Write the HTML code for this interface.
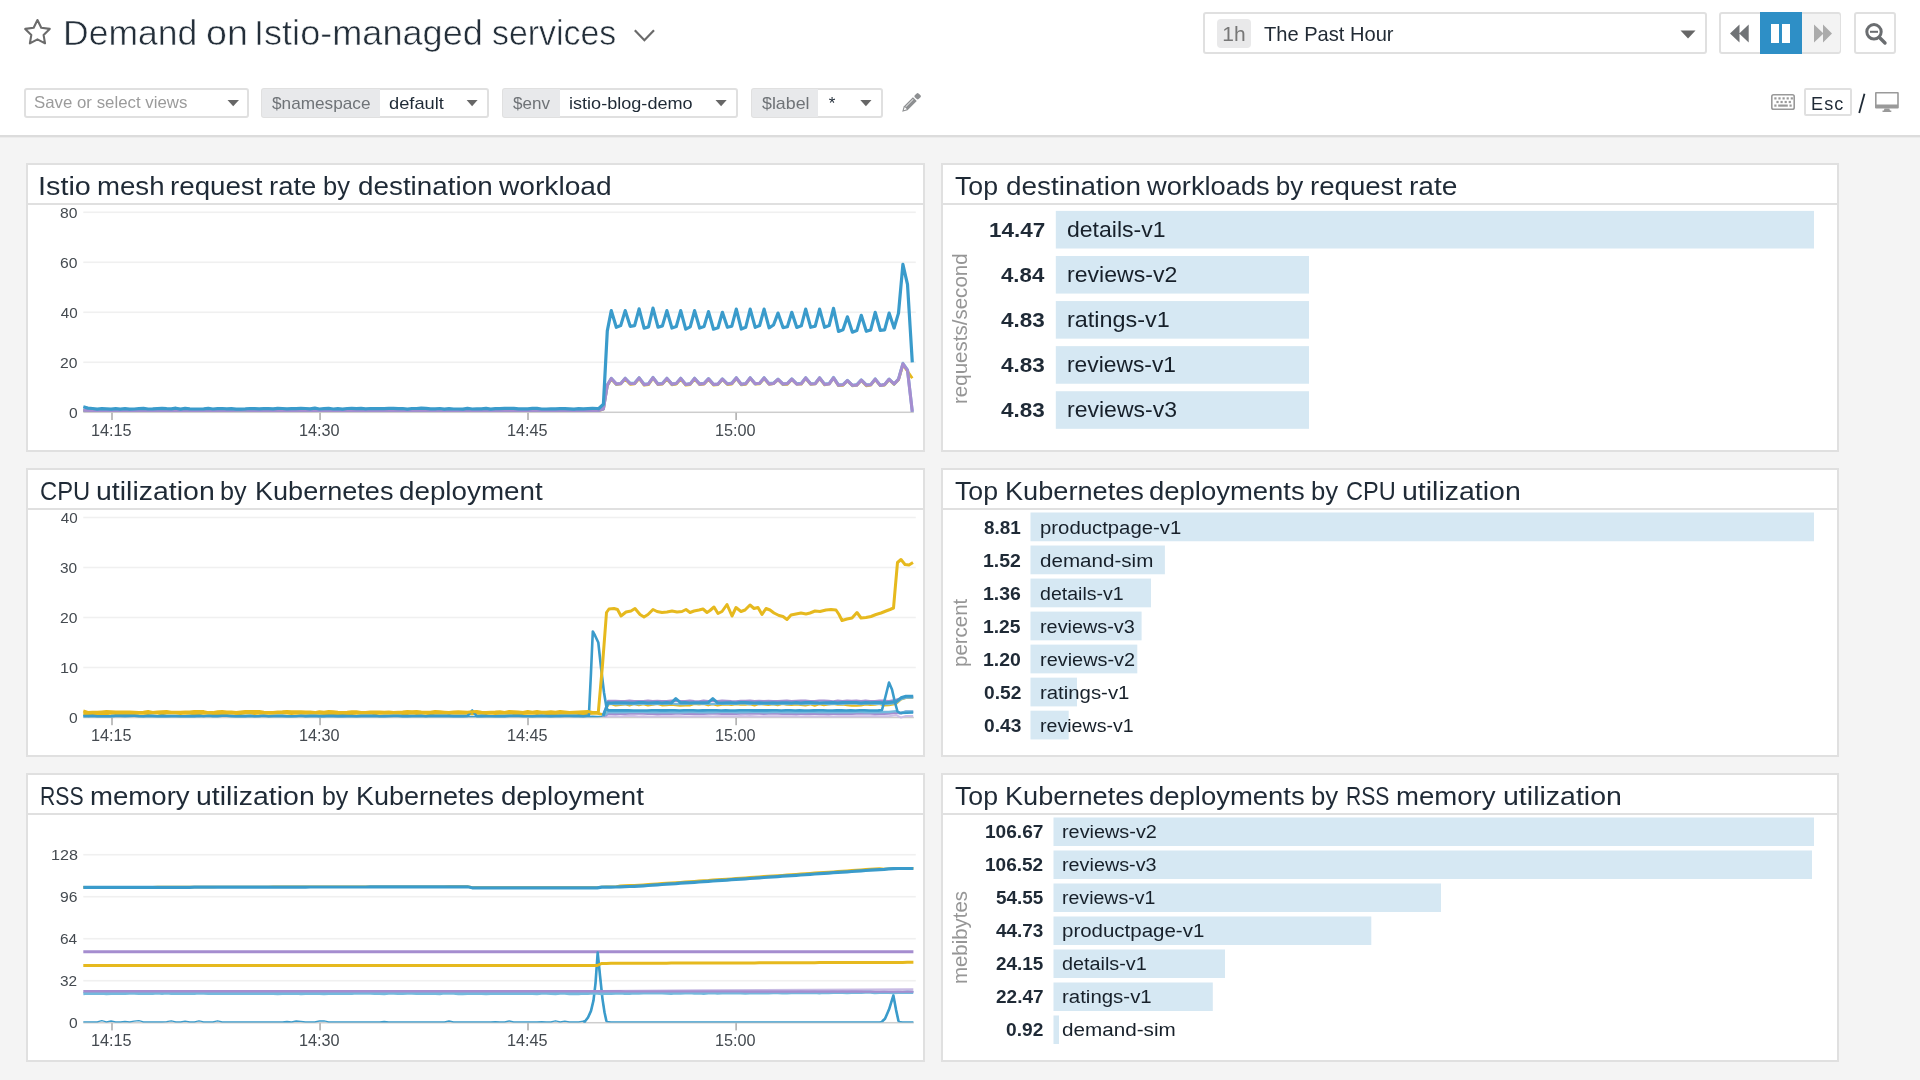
<!DOCTYPE html>
<html><head><meta charset="utf-8"><title>Demand on Istio-managed services</title><style>
html,body{margin:0;padding:0;}
body{width:1920px;height:1080px;overflow:hidden;background:#f4f4f4;font-family:"Liberation Sans",sans-serif;position:relative;}
.t{position:absolute;white-space:pre;line-height:1;transform-origin:0 0;font-family:"Liberation Sans",sans-serif;}
.abs{position:absolute;}
.hdr{position:absolute;left:0;top:0;width:1920px;height:135px;background:#fff;border-bottom:2px solid #dcdcdc;box-shadow:0 1px 0 #ebebeb;}
.box{position:absolute;box-sizing:border-box;border:2px solid #e0e0e0;border-radius:3px;background:#fff;}
.panel{position:absolute;box-sizing:border-box;border:2px solid #e0e0e0;background:#fff;}
.psep{position:absolute;left:0;right:0;height:2px;background:#e0e0e0;}
.bar{position:absolute;background:#d6e8f3;}
.rot{position:absolute;white-space:pre;line-height:1;transform-origin:0 0;transform:rotate(-90deg);color:#8a8a8a;}
#root{position:absolute;left:0;top:0;width:1920px;height:1080px;will-change:transform;background:#f4f4f4;}
svg{position:absolute;left:0;top:0;overflow:visible;}
</style></head><body><div id="root">
<div class="hdr"></div>
<svg width="1920" height="140" viewBox="0 0 1920 140"><path d="M37.45 20.00 L41.24 27.68 L49.72 28.91 L43.58 34.89 L45.03 43.34 L37.45 39.35 L29.87 43.34 L31.32 34.89 L25.18 28.91 L33.66 27.68 Z" fill="none" stroke="#6b6b6b" stroke-width="2.1" stroke-linejoin="round"/><path d="M634.8 30.3 L644.4 40.2 L654 30.3" fill="none" stroke="#6a6a6a" stroke-width="2.2"/></svg>
<span class="t" style="left:63.01px;top:15.00px;font-size:35px;color:#232e39;transform:scaleX(1.0145);-webkit-text-stroke:0.55px #fff;">Demand</span>
<span class="t" style="left:205.69px;top:15.00px;font-size:35px;color:#232e39;transform:scaleX(1.0752);-webkit-text-stroke:0.55px #fff;">on</span>
<span class="t" style="left:254.15px;top:15.00px;font-size:35px;color:#232e39;transform:scaleX(1.0317);-webkit-text-stroke:0.55px #fff;">Istio-managed</span>
<span class="t" style="left:492.33px;top:15.00px;font-size:35px;color:#232e39;transform:scaleX(0.9675);-webkit-text-stroke:0.55px #fff;">services</span>
<div class="box" style="left:1203px;top:12px;width:504px;height:42px;"></div>
<div class="abs" style="left:1217px;top:19px;width:34px;height:29px;background:#e9e9ea;border-radius:4px;"></div>
<span class="t" style="left:1222.32px;top:23.00px;font-size:21px;color:#777;">1h</span>
<span class="t" style="left:1263.82px;top:23.00px;font-size:21px;color:#222b35;transform:scaleX(0.9569);">The Past Hour</span>
<svg width="1920" height="140"><path d="M1680.5 30.5 L1695.5 30.5 L1688 38.5 Z" fill="#666"/></svg>
<div class="box" style="left:1719px;top:12px;width:122px;height:42px;"></div>
<div class="abs" style="left:1802px;top:14px;width:38px;height:38px;background:#f3f3f3;border-radius:0 2px 2px 0;"></div>
<div class="abs" style="left:1760px;top:12px;width:42px;height:42px;background:#2e8fc6;"></div>
<svg width="1920" height="140"><path d="M1739.5 24.5 L1739.5 42.5 L1730 33.5 Z M1748.7 24.5 L1748.7 42.5 L1739.2 33.5 Z" fill="#707376"/><rect x="1771" y="24" width="8" height="19" fill="#fff"/><rect x="1782" y="24" width="8" height="19" fill="#fff"/><path d="M1814 24.5 L1814 42.5 L1823.5 33.5 Z M1823 24.5 L1823 42.5 L1832 33.5 Z" fill="#ababab"/></svg>
<div class="box" style="left:1854px;top:12px;width:42px;height:42px;"></div>
<svg width="1920" height="140"><circle cx="1874" cy="31.8" r="7.2" fill="none" stroke="#6a6d70" stroke-width="3"/><path d="M1879.5 37.5 L1885 43" stroke="#6a6d70" stroke-width="3.4" stroke-linecap="round"/><path d="M1870 31.8 L1878 31.8" stroke="#6a6d70" stroke-width="2"/></svg>
<div class="box" style="left:24px;top:88px;width:225px;height:30px;"></div>
<span class="t" style="left:34.24px;top:94.00px;font-size:16.5px;color:#9b9b9b;transform:scaleX(1.0195);">Save or select views</span>
<svg width="1920" height="140"><path d="M227.5 100 L239 100 L233.2 106.3 Z" fill="#666"/></svg>
<div class="box" style="left:261px;top:88px;width:228px;height:30px;"></div>
<div class="abs" style="left:262px;top:89px;width:118px;height:28px;background:#e8e9eb;border-radius:2px 0 0 2px;"></div>
<span class="t" style="left:271.75px;top:95.00px;font-size:17px;color:#6f7377;transform:scaleX(1.0119);">$namespace</span>
<span class="t" style="left:388.89px;top:95.00px;font-size:17px;color:#1f2a36;transform:scaleX(1.0746);">default</span>
<svg width="1920" height="140"><path d="M466.6 100 L477.6 100 L472.1 106.3 Z" fill="#666"/></svg>
<div class="box" style="left:502px;top:88px;width:236px;height:30px;"></div>
<div class="abs" style="left:503px;top:89px;width:57px;height:28px;background:#e8e9eb;border-radius:2px 0 0 2px;"></div>
<span class="t" style="left:513.15px;top:95.00px;font-size:17px;color:#6f7377;transform:scaleX(1.0027);">$env</span>
<span class="t" style="left:569.14px;top:95.00px;font-size:17px;color:#1f2a36;transform:scaleX(1.0638);">istio-blog-demo</span>
<svg width="1920" height="140"><path d="M715.5 100 L726.7 100 L721.1 106.3 Z" fill="#666"/></svg>
<div class="box" style="left:751px;top:88px;width:132px;height:30px;"></div>
<div class="abs" style="left:752px;top:89px;width:66px;height:28px;background:#e8e9eb;border-radius:2px 0 0 2px;"></div>
<span class="t" style="left:761.64px;top:95.00px;font-size:17px;color:#6f7377;transform:scaleX(1.0477);">$label</span>
<span class="t" style="left:828.75px;top:95.00px;font-size:17px;color:#1f2a36;">*</span>
<svg width="1920" height="140"><path d="M860.3 100 L871.5 100 L865.9 106.3 Z" fill="#666"/></svg>
<svg width="1920" height="140"><g transform="translate(902.2,111.7) rotate(-45)"><path d="M0 0 L4.8 -2.7 L17.9 -2.7 L17.9 2.7 L4.8 2.7 Z" fill="#8d8f91"/><path d="M2.1 0 L5.1 -1.5 L5.1 1.5 Z" fill="#fff"/><rect x="6.0" y="-1.4" width="10.6" height="0.9" fill="#fff" opacity="0.8"/><rect x="19.2" y="-2.7" width="5.3" height="5.4" rx="1.3" fill="#8d8f91"/></g></svg>
<svg width="1920" height="140"><g fill="none" stroke="#999" stroke-width="1.6"><rect x="1771.8" y="94.8" width="22.4" height="14.4" rx="1.8"/></g><g fill="#999"><rect x="1774.3" y="97.3" width="2.2" height="2.2"/><rect x="1778.4" y="97.3" width="2.2" height="2.2"/><rect x="1782.5" y="97.3" width="2.2" height="2.2"/><rect x="1786.6" y="97.3" width="2.2" height="2.2"/><rect x="1790.7" y="97.3" width="2.2" height="2.2"/><rect x="1776.4" y="100.9" width="2.2" height="2.2"/><rect x="1780.5" y="100.9" width="2.2" height="2.2"/><rect x="1784.6" y="100.9" width="2.2" height="2.2"/><rect x="1788.7" y="100.9" width="2.2" height="2.2"/><rect x="1774.3" y="104.5" width="2.2" height="2.2"/><rect x="1778.2" y="104.5" width="9.6" height="2.2"/><rect x="1789.5" y="104.5" width="2.2" height="2.2"/></g></svg>
<div class="box" style="left:1804px;top:88px;width:48px;height:28px;border-radius:2px;"></div>
<span class="t" style="left:1811.15px;top:96.00px;font-size:17.5px;color:#1f2a36;letter-spacing:1.067px;transform:scaleX(1.0311);">Esc</span>
<svg width="1920" height="140"><path d="M1864.5 93.8 L1859.2 113" stroke="#1f2a36" stroke-width="1.8"/><path d="M1876 92 H1897.8 Q1898.8 92 1898.8 93 V107.6 Q1898.8 108.6 1897.8 108.6 H1876 Q1875 108.6 1875 107.6 V93 Q1875 92 1876 92 Z M1876.6 93.6 V104.6 H1897.2 V93.6 Z" fill="#9a9a9a" fill-rule="evenodd"/><path d="M1884.5 108.6 H1889.3 L1890 110.6 H1891.3 V112 H1882.5 V110.6 H1883.8 Z" fill="#9a9a9a"/></svg>
<div class="panel" style="left:26px;top:163px;width:899px;height:289px;"><div class="psep" style="top:38px;"></div></div>
<div class="panel" style="left:941px;top:163px;width:898px;height:289px;"><div class="psep" style="top:38px;"></div></div>
<span class="t" style="left:37.51px;top:173.00px;font-size:26px;color:#1f2a36;transform:scaleX(1.1079);">Istio</span>
<span class="t" style="left:96.84px;top:173.00px;font-size:26px;color:#1f2a36;transform:scaleX(1.0622);">mesh</span>
<span class="t" style="left:169.84px;top:173.00px;font-size:26px;color:#1f2a36;transform:scaleX(1.0655);">request</span>
<span class="t" style="left:269.15px;top:173.00px;font-size:26px;color:#1f2a36;transform:scaleX(1.0548);">rate</span>
<span class="t" style="left:323.28px;top:173.00px;font-size:26px;color:#1f2a36;transform:scaleX(0.9804);">by</span>
<span class="t" style="left:358.23px;top:173.00px;font-size:26px;color:#1f2a36;transform:scaleX(1.0707);">destination</span>
<span class="t" style="left:499.30px;top:173.00px;font-size:26px;color:#1f2a36;transform:scaleX(1.0826);">workload</span>
<span class="t" style="left:955.19px;top:173.00px;font-size:26px;color:#1f2a36;transform:scaleX(1.0261);">Top</span>
<span class="t" style="left:1005.63px;top:173.00px;font-size:26px;color:#1f2a36;transform:scaleX(1.0732);">destination</span>
<span class="t" style="left:1147.30px;top:173.00px;font-size:26px;color:#1f2a36;transform:scaleX(1.0486);">workloads</span>
<span class="t" style="left:1275.75px;top:173.00px;font-size:26px;color:#1f2a36;">by</span>
<span class="t" style="left:1310.14px;top:173.00px;font-size:26px;color:#1f2a36;transform:scaleX(1.0619);">request</span>
<span class="t" style="left:1409.41px;top:173.00px;font-size:26px;color:#1f2a36;transform:scaleX(1.0810);">rate</span>
<div class="panel" style="left:26px;top:468px;width:899px;height:289px;"><div class="psep" style="top:38px;"></div></div>
<div class="panel" style="left:941px;top:468px;width:898px;height:289px;"><div class="psep" style="top:38px;"></div></div>
<span class="t" style="left:39.86px;top:478.00px;font-size:26px;color:#1f2a36;transform:scaleX(0.9140);">CPU</span>
<span class="t" style="left:95.78px;top:478.00px;font-size:26px;color:#1f2a36;transform:scaleX(1.0952);">utilization</span>
<span class="t" style="left:220.30px;top:478.00px;font-size:26px;color:#1f2a36;transform:scaleX(0.9686);">by</span>
<span class="t" style="left:254.62px;top:478.00px;font-size:26px;color:#1f2a36;transform:scaleX(1.0408);">Kubernetes</span>
<span class="t" style="left:399.23px;top:478.00px;font-size:26px;color:#1f2a36;transform:scaleX(1.0687);">deployment</span>
<span class="t" style="left:955.19px;top:478.00px;font-size:26px;color:#1f2a36;transform:scaleX(1.0261);">Top</span>
<span class="t" style="left:1004.61px;top:478.00px;font-size:26px;color:#1f2a36;transform:scaleX(1.0446);">Kubernetes</span>
<span class="t" style="left:1148.94px;top:478.00px;font-size:26px;color:#1f2a36;transform:scaleX(1.0564);">deployments</span>
<span class="t" style="left:1311.27px;top:478.00px;font-size:26px;color:#1f2a36;transform:scaleX(0.9882);">by</span>
<span class="t" style="left:1346.47px;top:478.00px;font-size:26px;color:#1f2a36;transform:scaleX(0.9063);">CPU</span>
<span class="t" style="left:1402.28px;top:478.00px;font-size:26px;color:#1f2a36;transform:scaleX(1.0962);">utilization</span>
<div class="panel" style="left:26px;top:773px;width:899px;height:289px;"><div class="psep" style="top:38px;"></div></div>
<div class="panel" style="left:941px;top:773px;width:898px;height:289px;"><div class="psep" style="top:38px;"></div></div>
<span class="t" style="left:40.07px;top:783.00px;font-size:26px;color:#1f2a36;transform:scaleX(0.8159);">RSS</span>
<span class="t" style="left:89.84px;top:783.00px;font-size:26px;color:#1f2a36;transform:scaleX(1.0609);">memory</span>
<span class="t" style="left:196.38px;top:783.00px;font-size:26px;color:#1f2a36;transform:scaleX(1.0952);">utilization</span>
<span class="t" style="left:321.63px;top:783.00px;font-size:26px;color:#1f2a36;transform:scaleX(0.9569);">by</span>
<span class="t" style="left:355.62px;top:783.00px;font-size:26px;color:#1f2a36;transform:scaleX(1.0385);">Kubernetes</span>
<span class="t" style="left:500.64px;top:783.00px;font-size:26px;color:#1f2a36;transform:scaleX(1.0627);">deployment</span>
<span class="t" style="left:955.19px;top:783.00px;font-size:26px;color:#1f2a36;transform:scaleX(1.0261);">Top</span>
<span class="t" style="left:1004.61px;top:783.00px;font-size:26px;color:#1f2a36;transform:scaleX(1.0446);">Kubernetes</span>
<span class="t" style="left:1148.94px;top:783.00px;font-size:26px;color:#1f2a36;transform:scaleX(1.0564);">deployments</span>
<span class="t" style="left:1311.27px;top:783.00px;font-size:26px;color:#1f2a36;transform:scaleX(0.9882);">by</span>
<span class="t" style="left:1346.38px;top:783.00px;font-size:26px;color:#1f2a36;transform:scaleX(0.8119);">RSS</span>
<span class="t" style="left:1396.35px;top:783.00px;font-size:26px;color:#1f2a36;transform:scaleX(1.0598);">memory</span>
<span class="t" style="left:1503.48px;top:783.00px;font-size:26px;color:#1f2a36;transform:scaleX(1.0971);">utilization</span>
<svg width="1920" height="1080"><rect x="1055.8" y="210.90" width="758.20" height="37.6" fill="#d6e8f3"/><rect x="1055.8" y="255.98" width="253.20" height="37.6" fill="#d6e8f3"/><rect x="1055.8" y="301.06" width="253.20" height="37.6" fill="#d6e8f3"/><rect x="1055.8" y="346.14" width="253.20" height="37.6" fill="#d6e8f3"/><rect x="1055.8" y="391.22" width="253.20" height="37.6" fill="#d6e8f3"/><rect x="1030.5" y="512.50" width="783.50" height="28.75" fill="#d6e8f3"/><rect x="1030.5" y="545.53" width="134.40" height="28.75" fill="#d6e8f3"/><rect x="1030.5" y="578.56" width="120.50" height="28.75" fill="#d6e8f3"/><rect x="1030.5" y="611.59" width="111.10" height="28.75" fill="#d6e8f3"/><rect x="1030.5" y="644.62" width="106.80" height="28.75" fill="#d6e8f3"/><rect x="1030.5" y="677.65" width="46.50" height="28.75" fill="#d6e8f3"/><rect x="1030.5" y="710.68" width="38.20" height="28.75" fill="#d6e8f3"/><rect x="1053.5" y="817.50" width="760.50" height="28.5" fill="#d6e8f3"/><rect x="1053.5" y="850.50" width="758.50" height="28.5" fill="#d6e8f3"/><rect x="1053.5" y="883.50" width="387.50" height="28.5" fill="#d6e8f3"/><rect x="1053.5" y="916.50" width="317.80" height="28.5" fill="#d6e8f3"/><rect x="1053.5" y="949.50" width="171.50" height="28.5" fill="#d6e8f3"/><rect x="1053.5" y="982.50" width="159.30" height="28.5" fill="#d6e8f3"/><rect x="1053.5" y="1015.50" width="5.50" height="28.5" fill="#d6e8f3"/></svg>
<span class="t" style="left:988.93px;top:220.00px;font-size:20.5px;color:#1f2a36;font-weight:700;transform:scaleX(1.0964);">14.47</span>
<span class="t" style="left:1067.05px;top:219.00px;font-size:22px;color:#17202a;transform:scaleX(1.0467);">details-v1</span>
<span class="t" style="left:1001.23px;top:265.00px;font-size:20.5px;color:#1f2a36;font-weight:700;transform:scaleX(1.0835);">4.84</span>
<span class="t" style="left:1066.53px;top:264.00px;font-size:22px;color:#17202a;transform:scaleX(1.0488);">reviews-v2</span>
<span class="t" style="left:1001.23px;top:310.00px;font-size:20.5px;color:#1f2a36;font-weight:700;transform:scaleX(1.0974);">4.83</span>
<span class="t" style="left:1066.50px;top:309.00px;font-size:22px;color:#17202a;transform:scaleX(1.0638);">ratings-v1</span>
<span class="t" style="left:1001.23px;top:355.00px;font-size:20.5px;color:#1f2a36;font-weight:700;transform:scaleX(1.0974);">4.83</span>
<span class="t" style="left:1066.54px;top:354.00px;font-size:22px;color:#17202a;transform:scaleX(1.0371);">reviews-v1</span>
<span class="t" style="left:1001.23px;top:400.00px;font-size:20.5px;color:#1f2a36;font-weight:700;transform:scaleX(1.0974);">4.83</span>
<span class="t" style="left:1066.53px;top:399.00px;font-size:22px;color:#17202a;transform:scaleX(1.0462);">reviews-v3</span>
<span class="rot" style="left:951.00px;top:404.02px;font-size:19.5px;color:#969696;transform:rotate(-90deg) scaleX(1.0527);">requests/second</span>
<span class="t" style="left:983.99px;top:519.00px;font-size:18.7px;color:#1f2a36;font-weight:700;transform:scaleX(1.0113);">8.81</span>
<span class="t" style="left:1039.75px;top:519.00px;font-size:18.8px;color:#17202a;transform:scaleX(1.0823);">productpage-v1</span>
<span class="t" style="left:983.20px;top:552.00px;font-size:18.7px;color:#1f2a36;font-weight:700;transform:scaleX(1.0406);">1.52</span>
<span class="t" style="left:1040.28px;top:552.00px;font-size:18.8px;color:#17202a;transform:scaleX(1.0966);">demand-sim</span>
<span class="t" style="left:983.20px;top:585.00px;font-size:18.7px;color:#1f2a36;font-weight:700;transform:scaleX(1.0406);">1.36</span>
<span class="t" style="left:1040.32px;top:585.00px;font-size:18.8px;color:#17202a;transform:scaleX(1.0413);">details-v1</span>
<span class="t" style="left:983.21px;top:618.00px;font-size:18.7px;color:#1f2a36;font-weight:700;transform:scaleX(1.0331);">1.25</span>
<span class="t" style="left:1039.78px;top:618.00px;font-size:18.8px;color:#17202a;transform:scaleX(1.0564);">reviews-v3</span>
<span class="t" style="left:983.20px;top:651.00px;font-size:18.7px;color:#1f2a36;font-weight:700;transform:scaleX(1.0406);">1.20</span>
<span class="t" style="left:1039.78px;top:651.00px;font-size:18.8px;color:#17202a;transform:scaleX(1.0594);">reviews-v2</span>
<span class="t" style="left:983.73px;top:684.00px;font-size:18.7px;color:#1f2a36;font-weight:700;transform:scaleX(1.0257);">0.52</span>
<span class="t" style="left:1039.74px;top:684.00px;font-size:18.8px;color:#17202a;transform:scaleX(1.0841);">ratings-v1</span>
<span class="t" style="left:983.73px;top:717.00px;font-size:18.7px;color:#1f2a36;font-weight:700;transform:scaleX(1.0257);">0.43</span>
<span class="t" style="left:1039.80px;top:717.00px;font-size:18.8px;color:#17202a;transform:scaleX(1.0434);">reviews-v1</span>
<span class="rot" style="left:951.00px;top:667.41px;font-size:19.5px;color:#969696;transform:rotate(-90deg) scaleX(1.0494);">percent</span>
<span class="t" style="left:985.12px;top:823.00px;font-size:18.7px;color:#1f2a36;font-weight:700;transform:scaleX(1.0218);">106.67</span>
<span class="t" style="left:1061.78px;top:823.00px;font-size:18.8px;color:#17202a;transform:scaleX(1.0571);">reviews-v2</span>
<span class="t" style="left:985.13px;top:856.00px;font-size:18.7px;color:#1f2a36;font-weight:700;transform:scaleX(1.0172);">106.52</span>
<span class="t" style="left:1061.78px;top:856.00px;font-size:18.8px;color:#17202a;transform:scaleX(1.0541);">reviews-v3</span>
<span class="t" style="left:995.79px;top:889.00px;font-size:18.7px;color:#1f2a36;font-weight:700;transform:scaleX(1.0120);">54.55</span>
<span class="t" style="left:1061.80px;top:889.00px;font-size:18.8px;color:#17202a;transform:scaleX(1.0400);">reviews-v1</span>
<span class="t" style="left:996.05px;top:922.00px;font-size:18.7px;color:#1f2a36;font-weight:700;transform:scaleX(1.0120);">44.73</span>
<span class="t" style="left:1061.74px;top:922.00px;font-size:18.8px;color:#17202a;transform:scaleX(1.0901);">productpage-v1</span>
<span class="t" style="left:995.79px;top:955.00px;font-size:18.7px;color:#1f2a36;font-weight:700;transform:scaleX(1.0120);">24.15</span>
<span class="t" style="left:1062.31px;top:955.00px;font-size:18.8px;color:#17202a;transform:scaleX(1.0540);">details-v1</span>
<span class="t" style="left:995.79px;top:988.00px;font-size:18.7px;color:#1f2a36;font-weight:700;transform:scaleX(1.0176);">22.47</span>
<span class="t" style="left:1061.74px;top:988.00px;font-size:18.8px;color:#17202a;transform:scaleX(1.0879);">ratings-v1</span>
<span class="t" style="left:1005.93px;top:1021.00px;font-size:18.7px;color:#1f2a36;font-weight:700;transform:scaleX(1.0257);">0.92</span>
<span class="t" style="left:1062.27px;top:1021.00px;font-size:18.8px;color:#17202a;transform:scaleX(1.1005);">demand-sim</span>
<span class="rot" style="left:951.00px;top:984.11px;font-size:19.5px;color:#969696;transform:rotate(-90deg) scaleX(1.0471);">mebibytes</span>
<svg width="1920" height="1080"><rect x="83.3" y="361.50" width="832.5" height="1.6" fill="#f0f0f0"/><rect x="83.3" y="311.50" width="832.5" height="1.6" fill="#f0f0f0"/><rect x="83.3" y="261.50" width="832.5" height="1.6" fill="#f0f0f0"/><rect x="83.3" y="211.50" width="832.5" height="1.6" fill="#f0f0f0"/><rect x="83.3" y="411.55" width="830.5" height="1.5" fill="#cdcdcd"/><rect x="111.35" y="412.80" width="1.3" height="7.2" fill="#9d9d9d"/><rect x="319.40" y="412.80" width="1.3" height="7.2" fill="#9d9d9d"/><rect x="527.35" y="412.80" width="1.3" height="7.2" fill="#9d9d9d"/><rect x="735.45" y="412.80" width="1.3" height="7.2" fill="#9d9d9d"/></svg>
<span class="t" style="left:68.79px;top:405.00px;font-size:15.2px;color:#444a50;transform:scaleX(1.0267);">0</span>
<span class="t" style="left:60.23px;top:355.00px;font-size:15.2px;color:#444a50;transform:scaleX(1.0323);">20</span>
<span class="t" style="left:60.75px;top:305.00px;font-size:15.2px;color:#444a50;">40</span>
<span class="t" style="left:60.23px;top:255.00px;font-size:15.2px;color:#444a50;transform:scaleX(1.0323);">60</span>
<span class="t" style="left:60.23px;top:205.00px;font-size:15.2px;color:#444a50;transform:scaleX(1.0323);">80</span>
<span class="t" style="left:91.30px;top:423.00px;font-size:15.6px;color:#444a50;transform:scaleX(1.0416);">14:15</span>
<span class="t" style="left:299.35px;top:423.00px;font-size:15.6px;color:#444a50;transform:scaleX(1.0416);">14:30</span>
<span class="t" style="left:507.30px;top:423.00px;font-size:15.6px;color:#444a50;transform:scaleX(1.0416);">14:45</span>
<span class="t" style="left:715.40px;top:423.00px;font-size:15.6px;color:#444a50;transform:scaleX(1.0416);">15:00</span>
<svg width="1920" height="1080"><polyline points="83.3,410.6 87.9,410.5 92.6,410.6 97.2,410.6 101.8,410.5 106.4,410.5 111.1,410.6 115.7,410.6 120.3,410.5 125.0,410.6 129.6,410.6 134.2,410.6 138.9,410.5 143.5,410.6 148.1,410.5 152.7,410.6 157.4,410.6 162.0,410.6 166.6,410.5 171.3,410.5 175.9,410.6 180.5,410.5 185.1,410.5 189.8,410.5 194.4,410.6 199.0,410.6 203.7,410.6 208.3,410.5 212.9,410.6 217.6,410.6 222.2,410.6 226.8,410.5 231.4,410.5 236.1,410.6 240.7,410.6 245.3,410.5 250.0,410.5 254.6,410.5 259.2,410.6 263.8,410.6 268.5,410.5 273.1,410.6 277.7,410.6 282.4,410.5 287.0,410.5 291.6,410.5 296.2,410.6 300.9,410.5 305.5,410.6 310.1,410.5 314.8,410.6 319.4,410.6 324.0,410.5 328.7,410.5 333.3,410.6 337.9,410.6 342.5,410.5 347.2,410.6 351.8,410.6 356.4,410.6 361.1,410.6 365.7,410.6 370.3,410.6 374.9,410.6 379.6,410.5 384.2,410.6 388.8,410.5 393.5,410.6 398.1,410.6 402.7,410.6 407.4,410.6 412.0,410.6 416.6,410.5 421.2,410.5 425.9,410.6 430.5,410.6 435.1,410.5 439.8,410.6 444.4,410.5 449.0,410.6 453.6,410.6 458.3,410.5 462.9,410.6 467.5,410.5 472.2,410.5 476.8,410.5 481.4,410.6 486.1,410.5 490.7,410.5 495.3,410.5 499.9,410.6 504.6,410.6 509.2,410.6 513.8,410.6 518.5,410.6 523.1,410.5 527.7,410.6 532.3,410.6 537.0,410.6 541.6,410.5 546.2,410.5 550.9,410.5 555.5,410.6 560.1,410.6 564.8,410.6 569.4,410.6 574.0,410.6 578.6,410.6 583.3,410.6 587.9,410.5 592.5,410.5 597.2,410.5 598.5,410.6 603.4,409.1 607.3,385.7 611.3,379.0 616.3,384.6 620.7,383.8 625.2,379.0 630.2,384.4 634.6,383.8 639.1,378.5 644.1,385.2 648.5,384.6 653.0,378.2 658.0,384.7 662.4,384.2 666.9,379.0 671.9,384.8 676.3,384.2 680.7,379.0 685.7,385.2 690.2,384.5 694.6,379.0 699.6,384.7 704.1,384.1 708.5,379.4 713.5,385.2 718.0,384.7 722.4,379.6 727.4,384.5 731.8,384.1 736.3,378.5 741.3,384.8 745.7,384.3 750.2,378.5 755.2,384.2 759.6,383.8 764.1,378.5 769.1,384.3 773.5,383.7 778.0,379.8 783.0,384.7 787.4,384.3 791.8,379.6 796.8,384.2 801.3,384.1 805.7,378.5 810.7,384.3 815.2,383.9 819.6,378.5 824.6,384.9 829.1,384.0 833.5,378.3 838.5,385.6 843.0,385.3 847.4,381.1 852.4,385.8 856.8,385.2 861.3,380.6 866.3,385.9 870.7,385.2 875.2,379.6 880.2,385.6 884.6,385.0 889.1,379.8 894.1,384.4 898.5,379.8 902.9,364.8 907.5,371.2 912.3,378.3" fill="none" stroke="#e6b91e" stroke-width="2.8" stroke-linejoin="round" stroke-linecap="butt" opacity="1" /><polyline points="83.3,410.2 87.9,410.3 92.6,410.2 97.2,410.3 101.8,410.3 106.4,410.4 111.1,410.4 115.7,410.4 120.3,410.3 125.0,410.4 129.6,410.2 134.2,410.3 138.9,410.3 143.5,410.3 148.1,410.3 152.7,410.3 157.4,410.4 162.0,410.2 166.6,410.3 171.3,410.3 175.9,410.3 180.5,410.3 185.1,410.4 189.8,410.3 194.4,410.3 199.0,410.4 203.7,410.3 208.3,410.3 212.9,410.4 217.6,410.3 222.2,410.2 226.8,410.3 231.4,410.3 236.1,410.3 240.7,410.3 245.3,410.2 250.0,410.3 254.6,410.3 259.2,410.4 263.8,410.4 268.5,410.3 273.1,410.3 277.7,410.3 282.4,410.3 287.0,410.4 291.6,410.4 296.2,410.3 300.9,410.3 305.5,410.3 310.1,410.3 314.8,410.3 319.4,410.3 324.0,410.3 328.7,410.3 333.3,410.4 337.9,410.2 342.5,410.4 347.2,410.2 351.8,410.2 356.4,410.4 361.1,410.3 365.7,410.2 370.3,410.2 374.9,410.3 379.6,410.3 384.2,410.4 388.8,410.2 393.5,410.4 398.1,410.3 402.7,410.4 407.4,410.3 412.0,410.2 416.6,410.4 421.2,410.2 425.9,410.3 430.5,410.2 435.1,410.3 439.8,410.4 444.4,410.2 449.0,410.3 453.6,410.4 458.3,410.4 462.9,410.3 467.5,410.3 472.2,410.3 476.8,410.4 481.4,410.3 486.1,410.3 490.7,410.2 495.3,410.4 499.9,410.2 504.6,410.2 509.2,410.4 513.8,410.2 518.5,410.3 523.1,410.2 527.7,410.3 532.3,410.3 537.0,410.3 541.6,410.2 546.2,410.3 550.9,410.3 555.5,410.3 560.1,410.3 564.8,410.4 569.4,410.4 574.0,410.2 578.6,410.3 583.3,410.2 587.9,410.4 592.5,410.3 597.2,410.3 598.5,410.3 603.4,408.9 607.3,385.0 611.3,378.2 616.3,384.0 620.7,383.4 625.2,378.2 630.2,383.3 634.6,382.9 639.1,377.6 644.1,384.1 648.5,383.7 653.0,377.3 658.0,383.8 662.4,383.2 666.9,378.2 671.9,383.9 676.3,383.4 680.7,378.2 685.7,384.4 690.2,383.6 694.6,378.2 699.6,383.8 704.1,383.2 708.5,378.5 713.5,384.2 718.0,383.9 722.4,378.8 727.4,383.9 731.8,383.0 736.3,377.7 741.3,384.3 745.7,383.6 750.2,377.7 755.2,383.7 759.6,383.2 764.1,377.7 769.1,383.6 773.5,383.0 778.0,379.0 783.0,384.1 787.4,383.4 791.8,378.8 796.8,383.8 801.3,383.2 805.7,377.7 810.7,383.8 815.2,383.4 819.6,377.7 824.6,384.1 829.1,383.6 833.5,377.4 838.5,384.9 843.0,384.6 847.4,380.3 852.4,385.4 856.8,384.5 861.3,379.8 866.3,384.8 870.7,384.6 875.2,378.8 880.2,385.2 884.6,384.6 889.1,379.0 894.1,384.0 898.5,379.0 902.9,363.3 907.5,369.9 912.3,411.8" fill="none" stroke="#74b9dd" stroke-width="3.0" stroke-linejoin="round" stroke-linecap="butt" opacity="1" /><polyline points="83.3,410.3 87.9,410.4 92.6,410.5 97.2,410.4 101.8,410.5 106.4,410.4 111.1,410.3 115.7,410.4 120.3,410.4 125.0,410.5 129.6,410.5 134.2,410.5 138.9,410.4 143.5,410.4 148.1,410.4 152.7,410.5 157.4,410.5 162.0,410.4 166.6,410.3 171.3,410.4 175.9,410.4 180.5,410.4 185.1,410.4 189.8,410.5 194.4,410.4 199.0,410.5 203.7,410.5 208.3,410.5 212.9,410.5 217.6,410.5 222.2,410.4 226.8,410.3 231.4,410.4 236.1,410.3 240.7,410.3 245.3,410.3 250.0,410.5 254.6,410.5 259.2,410.5 263.8,410.5 268.5,410.5 273.1,410.4 277.7,410.3 282.4,410.4 287.0,410.4 291.6,410.4 296.2,410.4 300.9,410.5 305.5,410.4 310.1,410.3 314.8,410.4 319.4,410.4 324.0,410.4 328.7,410.5 333.3,410.4 337.9,410.5 342.5,410.4 347.2,410.3 351.8,410.4 356.4,410.4 361.1,410.3 365.7,410.4 370.3,410.5 374.9,410.5 379.6,410.5 384.2,410.3 388.8,410.4 393.5,410.5 398.1,410.4 402.7,410.3 407.4,410.4 412.0,410.5 416.6,410.4 421.2,410.5 425.9,410.5 430.5,410.3 435.1,410.4 439.8,410.4 444.4,410.3 449.0,410.4 453.6,410.4 458.3,410.4 462.9,410.5 467.5,410.5 472.2,410.5 476.8,410.5 481.4,410.4 486.1,410.5 490.7,410.4 495.3,410.5 499.9,410.3 504.6,410.5 509.2,410.4 513.8,410.4 518.5,410.3 523.1,410.4 527.7,410.3 532.3,410.4 537.0,410.4 541.6,410.4 546.2,410.5 550.9,410.4 555.5,410.5 560.1,410.5 564.8,410.4 569.4,410.5 574.0,410.4 578.6,410.4 583.3,410.4 587.9,410.5 592.5,410.4 597.2,410.4 598.5,410.4 603.4,409.0 607.3,385.3 611.3,378.5 616.3,383.9 620.7,383.8 625.2,378.5 630.2,383.8 634.6,383.5 639.1,377.9 644.1,384.7 648.5,383.9 653.0,377.7 658.0,384.2 662.4,383.7 666.9,378.5 671.9,384.1 676.3,383.5 680.7,378.5 685.7,384.5 690.2,383.9 694.6,378.5 699.6,384.1 704.1,383.6 708.5,378.9 713.5,384.5 718.0,384.1 722.4,379.1 727.4,384.0 731.8,383.5 736.3,378.0 741.3,384.2 745.7,383.8 750.2,378.0 755.2,383.7 759.6,383.2 764.1,378.0 769.1,384.1 773.5,383.5 778.0,379.3 783.0,384.0 787.4,383.6 791.8,379.1 796.8,384.2 801.3,383.7 805.7,378.0 810.7,384.0 815.2,383.7 819.6,378.0 824.6,384.4 829.1,384.0 833.5,377.8 838.5,385.3 843.0,384.8 847.4,380.6 852.4,385.3 856.8,385.2 861.3,380.1 866.3,385.2 870.7,384.7 875.2,379.1 880.2,385.4 884.6,384.6 889.1,379.3 894.1,383.8 898.5,379.3 902.9,363.8 907.5,370.3 912.3,411.8" fill="none" stroke="#a58dcf" stroke-width="3.1" stroke-linejoin="round" stroke-linecap="butt" opacity="1" /><polyline points="83.3,406.8 87.9,408.1 92.6,408.5 97.2,409.1 101.8,408.6 106.4,408.8 111.1,409.1 115.7,408.7 120.3,409.1 125.0,408.7 129.6,409.1 134.2,409.0 138.9,408.7 143.5,408.4 148.1,409.0 152.7,408.9 157.4,408.6 162.0,408.3 166.6,408.6 171.3,408.8 175.9,408.2 180.5,409.1 185.1,408.4 189.8,408.9 194.4,409.0 199.0,409.0 203.7,408.8 208.3,408.4 212.9,409.0 217.6,408.6 222.2,408.5 226.8,408.8 231.4,408.6 236.1,409.1 240.7,409.1 245.3,408.9 250.0,408.5 254.6,408.7 259.2,408.8 263.8,408.6 268.5,408.7 273.1,408.9 277.7,408.4 282.4,408.5 287.0,408.9 291.6,408.6 296.2,408.7 300.9,408.3 305.5,408.5 310.1,408.9 314.8,408.2 319.4,409.0 324.0,408.7 328.7,408.4 333.3,409.0 337.9,408.7 342.5,409.1 347.2,408.5 351.8,408.4 356.4,408.6 361.1,408.3 365.7,408.8 370.3,408.5 374.9,408.6 379.6,408.6 384.2,408.7 388.8,408.4 393.5,408.3 398.1,408.7 402.7,408.5 407.4,409.1 412.0,408.5 416.6,408.5 421.2,408.2 425.9,408.4 430.5,408.9 435.1,408.8 439.8,408.5 444.4,409.1 449.0,408.7 453.6,409.0 458.3,409.0 462.9,409.1 467.5,408.4 472.2,409.0 476.8,408.9 481.4,408.8 486.1,408.3 490.7,409.1 495.3,408.7 499.9,408.6 504.6,408.3 509.2,408.4 513.8,408.3 518.5,408.9 523.1,408.8 527.7,408.8 532.3,408.3 537.0,408.3 541.6,409.0 546.2,409.0 550.9,408.9 555.5,408.9 560.1,408.7 564.8,408.6 569.4,408.9 574.0,409.1 578.6,408.7 583.3,408.8 587.9,408.6 592.5,408.3 597.2,408.5 598.5,408.7 603.4,404.3 607.3,330.9 611.3,310.6 616.3,327.3 620.7,325.6 625.2,310.6 630.2,326.3 634.6,325.7 639.1,308.8 644.1,328.2 648.5,326.9 653.0,308.1 658.0,327.2 662.4,325.9 666.9,310.6 671.9,328.0 676.3,326.5 680.7,310.6 685.7,329.1 690.2,326.8 694.6,310.6 699.6,328.0 704.1,326.4 708.5,311.6 713.5,329.2 718.0,327.8 722.4,312.3 727.4,327.3 731.8,326.2 736.3,309.1 741.3,329.0 745.7,327.3 750.2,309.1 755.2,327.4 759.6,325.5 764.1,309.1 769.1,327.8 773.5,325.0 778.0,313.1 783.0,327.6 787.4,326.8 791.8,312.3 796.8,327.4 801.3,325.8 805.7,309.1 810.7,327.3 815.2,326.1 819.6,309.1 824.6,327.3 829.1,325.6 833.5,308.3 838.5,331.4 843.0,329.8 847.4,316.8 852.4,332.2 856.8,330.6 861.3,315.3 866.3,331.3 870.7,329.9 875.2,312.3 880.2,330.3 884.6,329.8 889.1,313.1 894.1,328.0 898.5,313.1 902.9,264.3 907.5,284.3 912.3,362.3" fill="none" stroke="#3a9bcb" stroke-width="3.2" stroke-linejoin="round" stroke-linecap="butt" opacity="1" /></svg>
<svg width="1920" height="1080"><rect x="83.3" y="666.70" width="832.5" height="1.6" fill="#f0f0f0"/><rect x="83.3" y="616.70" width="832.5" height="1.6" fill="#f0f0f0"/><rect x="83.3" y="566.70" width="832.5" height="1.6" fill="#f0f0f0"/><rect x="83.3" y="516.70" width="832.5" height="1.6" fill="#f0f0f0"/><rect x="83.3" y="716.75" width="830.5" height="1.5" fill="#cdcdcd"/><rect x="111.35" y="718.00" width="1.3" height="7.2" fill="#9d9d9d"/><rect x="319.40" y="718.00" width="1.3" height="7.2" fill="#9d9d9d"/><rect x="527.35" y="718.00" width="1.3" height="7.2" fill="#9d9d9d"/><rect x="735.45" y="718.00" width="1.3" height="7.2" fill="#9d9d9d"/></svg>
<span class="t" style="left:68.79px;top:710.00px;font-size:15.2px;color:#444a50;transform:scaleX(1.0267);">0</span>
<span class="t" style="left:59.67px;top:660.00px;font-size:15.2px;color:#444a50;transform:scaleX(1.0667);">10</span>
<span class="t" style="left:60.23px;top:610.00px;font-size:15.2px;color:#444a50;transform:scaleX(1.0323);">20</span>
<span class="t" style="left:60.49px;top:560.00px;font-size:15.2px;color:#444a50;transform:scaleX(1.0159);">30</span>
<span class="t" style="left:60.75px;top:510.00px;font-size:15.2px;color:#444a50;">40</span>
<span class="t" style="left:91.30px;top:728.00px;font-size:15.6px;color:#444a50;transform:scaleX(1.0416);">14:15</span>
<span class="t" style="left:299.35px;top:728.00px;font-size:15.6px;color:#444a50;transform:scaleX(1.0416);">14:30</span>
<span class="t" style="left:507.30px;top:728.00px;font-size:15.6px;color:#444a50;transform:scaleX(1.0416);">14:45</span>
<span class="t" style="left:715.40px;top:728.00px;font-size:15.6px;color:#444a50;transform:scaleX(1.0416);">15:00</span>
<svg width="1920" height="1080"><polyline points="83.3,715.5 88.9,716.4 92.6,716.3 97.2,716.4 101.8,716.5 106.4,716.4 111.1,716.5 115.7,716.5 120.3,716.4 125.0,716.5 129.6,716.4 134.2,716.3 138.9,716.3 143.5,716.4 148.1,716.4 152.7,716.4 157.4,716.5 162.0,716.4 166.6,716.4 171.3,716.3 175.9,716.3 180.5,716.4 185.1,716.4 189.8,716.3 194.4,716.4 199.0,716.5 203.7,716.3 208.3,716.3 212.9,716.3 217.6,716.3 222.2,716.3 226.8,716.3 231.4,716.4 236.1,716.4 240.7,716.5 245.3,716.4 250.0,716.5 254.6,716.4 259.2,716.3 263.8,716.3 268.5,716.4 273.1,716.5 277.7,716.4 282.4,716.4 287.0,716.4 291.6,716.4 296.2,716.3 300.9,716.3 305.5,716.5 310.1,716.4 314.8,716.3 319.4,716.4 324.0,716.4 328.7,716.3 333.3,716.5 337.9,716.4 342.5,716.5 347.2,716.3 351.8,716.3 356.4,716.4 361.1,716.5 365.7,716.4 370.3,716.4 374.9,716.3 379.6,716.4 384.2,716.4 388.8,716.3 393.5,716.4 398.1,716.4 402.7,716.3 407.4,716.5 412.0,716.3 416.6,716.4 421.2,716.3 425.9,716.5 430.5,716.3 435.1,716.4 439.8,716.5 444.4,716.5 449.0,716.4 453.6,716.5 458.3,716.4 462.9,716.4 467.5,716.3 472.2,716.4 476.8,716.5 481.4,716.5 486.1,716.3 490.7,716.3 495.3,716.4 499.9,716.5 504.6,716.3 509.2,716.4 513.8,716.5 518.5,716.5 523.1,716.3 527.7,716.3 532.3,716.4 537.0,716.4 541.6,716.4 546.2,716.5 550.9,716.3 555.5,716.4 560.1,716.4 564.8,716.3 569.4,716.3 574.0,716.4 578.6,716.5 583.3,716.4 587.9,716.5 592.5,716.3 597.2,716.4 601.8,716.3 603.0,716.0" fill="none" stroke="#3a9bcb" stroke-width="1.5" stroke-linejoin="round" stroke-linecap="butt" opacity="1" /><polyline points="83.3,713.7 87.9,713.6 92.6,713.7 97.2,713.6 101.8,713.8 106.4,713.9 111.1,713.3 115.7,713.7 120.3,713.7 125.0,713.7 129.6,713.5 134.2,713.6 138.9,713.4 143.5,713.4 148.1,713.6 152.7,713.2 157.4,713.2 162.0,713.9 166.6,713.2 171.3,713.2 175.9,713.3 180.5,713.8 185.1,713.2 189.8,713.4 194.4,713.9 199.0,713.9 203.7,713.1 208.3,713.4 212.9,713.7 217.6,713.8 222.2,713.8 226.8,713.7 231.4,713.3 236.1,713.6 240.7,713.8 245.3,713.2 250.0,713.3 254.6,713.8 259.2,713.2 263.8,713.4 268.5,713.3 273.1,713.4 277.7,713.2 282.4,713.3 287.0,713.2 291.6,713.7 296.2,713.3 300.9,713.5 305.5,713.3 310.1,713.5 314.8,713.2 319.4,713.5 324.0,713.7 328.7,713.7 333.3,713.8 337.9,713.5 342.5,713.9 347.2,713.5 351.8,713.8 356.4,713.5 361.1,713.5 365.7,713.5 370.3,713.2 374.9,713.9 379.6,713.2 384.2,713.5 388.8,713.4 393.5,713.4 398.1,713.2 402.7,713.6 407.4,713.6 412.0,713.1 416.6,713.8 421.2,713.4 425.9,713.4 430.5,713.9 435.1,713.4 439.8,713.4 444.4,713.2 449.0,713.6 453.6,713.1 458.3,713.5 462.9,713.5 467.5,713.2 472.2,713.9 476.8,713.3 481.4,713.4 486.1,713.6 490.7,713.2 495.3,713.6 499.9,713.5 504.6,713.5 509.2,713.3 513.8,713.7 518.5,713.6 523.1,713.6 527.7,713.5 532.3,713.2 537.0,713.7 541.6,713.2 546.2,713.6 550.9,713.5 555.5,713.7 560.1,713.5 564.8,713.1 569.4,713.4 574.0,713.3 578.6,713.6 583.3,713.6 587.9,713.7 592.5,713.4 597.2,713.4 603.0,714.5" fill="none" stroke="#e6b91e" stroke-width="2.6" stroke-linejoin="round" stroke-linecap="butt" opacity="1" /><polyline points="603.0,715.8 606.0,716.8 608.0,716.2 611.0,716.2 615.6,716.1 620.3,716.4 624.9,716.1 629.5,716.1 634.1,716.1 638.8,716.4 643.4,716.3 648.0,716.4 652.7,716.4 657.3,716.1 661.9,716.2 666.6,716.2 671.2,716.2 675.8,716.2 680.4,716.3 685.1,716.4 689.7,716.4 694.3,716.2 699.0,716.3 703.6,716.3 708.2,716.3 712.8,716.4 717.5,716.3 722.1,716.3 726.7,716.2 731.4,716.3 736.0,716.3 740.6,716.1 745.3,716.2 749.9,716.1 754.5,716.2 759.1,716.4 763.8,716.3 768.4,716.3 773.0,716.2 777.7,716.3 782.3,716.2 786.9,716.2 791.5,716.3 796.2,716.1 800.8,716.4 805.4,716.2 810.1,716.3 814.7,716.4 819.3,716.3 823.9,716.2 828.6,716.1 833.2,716.4 837.8,716.3 842.5,716.3 847.1,716.2 851.7,716.3 856.4,716.3 861.0,716.3 865.6,716.2 870.2,716.3 874.9,716.1 879.5,716.3 884.1,716.3 888.8,716.2 896.0,715.2 901.0,717.5 906.0,716.0 913.2,716.0" fill="none" stroke="#cdbfe6" stroke-width="2.0" stroke-linejoin="round" stroke-linecap="butt" opacity="1" /><polyline points="603.0,715.8 606.0,715.2 608.0,713.6 611.0,713.8 615.6,713.7 620.3,713.8 624.9,713.7 629.5,713.5 634.1,713.5 638.8,713.5 643.4,713.5 648.0,713.7 652.7,713.6 657.3,713.6 661.9,713.5 666.6,713.6 671.2,713.7 675.8,713.5 680.4,713.4 685.1,713.7 689.7,713.4 694.3,713.8 699.0,713.7 703.6,713.7 708.2,713.5 712.8,713.4 717.5,713.5 722.1,713.7 726.7,713.4 731.4,713.7 736.0,713.7 740.6,713.4 745.3,713.5 749.9,713.5 754.5,713.5 759.1,713.4 763.8,713.6 768.4,713.5 773.0,713.5 777.7,713.5 782.3,713.6 786.9,713.5 791.5,713.6 796.2,713.7 800.8,713.7 805.4,713.6 810.1,713.8 814.7,713.4 819.3,713.7 823.9,713.8 828.6,713.8 833.2,713.4 837.8,713.7 842.5,713.7 847.1,713.8 851.7,713.8 856.4,713.5 861.0,713.5 865.6,713.5 870.2,713.5 874.9,713.8 879.5,713.6 884.1,713.7 888.8,713.5 896.0,712.6 901.0,713.2 906.0,711.8 913.2,711.8" fill="none" stroke="#a58dcf" stroke-width="2.6" stroke-linejoin="round" stroke-linecap="butt" opacity="1" /><polyline points="603.0,715.8 606.0,714.3 608.0,712.1 611.0,712.2 615.6,712.3 620.3,712.1 624.9,712.3 629.5,712.0 634.1,712.1 638.8,712.0 643.4,712.1 648.0,712.2 652.7,712.2 657.3,712.2 661.9,712.0 666.6,712.3 671.2,712.0 675.8,712.3 680.4,712.3 685.1,712.2 689.7,712.0 694.3,712.1 699.0,712.2 703.6,712.0 708.2,712.3 712.8,712.2 717.5,712.1 722.1,712.0 726.7,712.0 731.4,712.1 736.0,712.2 740.6,712.2 745.3,712.3 749.9,712.0 754.5,712.1 759.1,712.1 763.8,712.3 768.4,712.2 773.0,712.0 777.7,712.1 782.3,712.3 786.9,712.2 791.5,712.0 796.2,712.3 800.8,712.3 805.4,712.2 810.1,712.1 814.7,712.0 819.3,712.3 823.9,712.3 828.6,712.3 833.2,712.2 837.8,712.1 842.5,712.3 847.1,712.2 851.7,712.3 856.4,712.0 861.0,712.1 865.6,712.3 870.2,712.0 874.9,712.3 879.5,712.2 884.1,712.0 888.8,712.0 896.0,711.1 901.0,713.0 906.0,711.5 913.2,711.5" fill="none" stroke="#74b9dd" stroke-width="2.4" stroke-linejoin="round" stroke-linecap="butt" opacity="1" /><polyline points="603.0,715.8 606.0,709.9 608.0,704.8 611.0,704.0 615.6,705.5 620.3,705.0 624.9,704.3 629.5,705.4 634.1,704.0 638.8,705.2 643.4,704.2 648.0,705.4 652.7,704.7 657.3,704.0 661.9,705.3 666.6,705.2 671.2,704.7 675.8,705.1 680.4,705.6 685.1,705.3 689.7,705.4 694.3,704.0 699.0,704.4 703.6,704.0 708.2,705.3 712.8,704.2 717.5,705.4 722.1,704.7 726.7,704.5 731.4,705.0 736.0,704.1 740.6,704.7 745.3,704.6 749.9,704.1 754.5,705.5 759.1,703.9 763.8,704.5 768.4,704.9 773.0,704.2 777.7,705.2 782.3,703.9 786.9,704.6 791.5,705.0 796.2,704.3 800.8,704.9 805.4,705.3 810.1,704.3 814.7,705.6 819.3,704.2 823.9,705.2 828.6,704.5 833.2,703.9 837.8,704.6 842.5,704.5 847.1,705.1 851.7,705.6 856.4,705.6 861.0,705.4 865.6,704.5 870.2,704.9 874.9,704.7 879.5,704.0 884.1,705.4 888.8,705.2 896.0,703.8 901.0,699.5 906.0,698.0 913.2,698.0" fill="none" stroke="#e6b91e" stroke-width="2.2" stroke-linejoin="round" stroke-linecap="butt" opacity="1" /><polyline points="603.0,715.8 606.0,707.6 608.0,701.0 611.0,701.0 615.6,700.9 620.3,701.3 624.9,701.3 629.5,700.8 634.1,701.1 638.8,701.2 643.4,701.2 648.0,700.6 652.7,701.2 657.3,700.9 661.9,701.1 666.6,701.1 671.2,700.7 675.8,700.6 680.4,701.1 685.1,701.2 689.7,700.8 694.3,701.2 699.0,701.4 703.6,700.7 708.2,701.1 712.8,700.7 717.5,701.1 722.1,700.7 726.7,701.0 731.4,701.3 736.0,701.4 740.6,701.0 745.3,700.9 749.9,700.7 754.5,701.3 759.1,700.9 763.8,701.1 768.4,701.0 773.0,701.3 777.7,701.2 782.3,701.0 786.9,700.7 791.5,701.3 796.2,701.0 800.8,700.8 805.4,700.6 810.1,701.2 814.7,701.3 819.3,700.6 823.9,700.6 828.6,701.0 833.2,701.4 837.8,700.7 842.5,701.1 847.1,700.7 851.7,700.9 856.4,700.7 861.0,701.3 865.6,700.8 870.2,701.2 874.9,701.1 879.5,700.7 884.1,700.7 888.8,701.3 896.0,700.0 901.0,698.5 906.0,697.0 913.2,697.0" fill="none" stroke="#a58dcf" stroke-width="2.4" stroke-linejoin="round" stroke-linecap="butt" opacity="1" /><polyline points="603.0,715.8 606.0,709.2 608.0,703.8 611.0,703.6 615.6,704.1 620.3,704.1 624.9,703.9 629.5,704.1 634.1,703.9 638.8,704.0 643.4,703.7 648.0,703.7 652.7,704.0 657.3,703.7 661.9,703.8 666.6,704.0 671.2,703.4 675.8,704.0 680.4,704.0 685.1,704.1 689.7,703.6 694.3,703.5 699.0,703.5 703.6,703.8 708.2,703.9 712.8,704.1 717.5,703.6 722.1,703.7 726.7,703.9 731.4,703.6 736.0,703.8 740.6,703.4 745.3,703.6 749.9,704.0 754.5,703.4 759.1,704.1 763.8,703.7 768.4,703.8 773.0,704.0 777.7,704.1 782.3,703.5 786.9,704.1 791.5,703.7 796.2,703.4 800.8,704.0 805.4,704.0 810.1,703.7 814.7,703.7 819.3,703.6 823.9,703.5 828.6,704.0 833.2,703.9 837.8,703.9 842.5,704.1 847.1,703.4 851.7,703.5 856.4,703.6 861.0,704.1 865.6,703.5 870.2,703.6 874.9,703.8 879.5,703.6 884.1,703.8 888.8,704.0 896.0,702.8 901.0,699.0 906.0,697.5 913.2,697.5" fill="none" stroke="#74b9dd" stroke-width="2.4" stroke-linejoin="round" stroke-linecap="butt" opacity="1" /><polyline points="603.0,715.8 606.0,708.6 608.0,702.8 611.0,703.0 615.6,702.8 620.3,702.7 624.9,702.8 629.5,703.1 634.1,703.0 638.8,702.6 643.4,702.4 648.0,703.1 652.7,702.7 657.3,702.5 661.9,703.1 666.6,702.5 671.2,703.1 675.8,698.5 680.4,702.7 685.1,702.6 689.7,702.9 694.3,702.8 699.0,702.7 703.6,702.8 708.2,702.6 712.8,698.5 717.5,702.8 722.1,703.1 726.7,702.7 731.4,702.8 736.0,703.0 740.6,702.5 745.3,702.5 749.9,702.8 754.5,703.0 759.1,702.8 763.8,703.1 768.4,703.0 773.0,702.8 777.7,703.1 782.3,702.8 786.9,702.7 791.5,703.1 796.2,702.6 800.8,703.1 805.4,702.6 810.1,702.5 814.7,702.7 819.3,703.1 823.9,702.7 828.6,702.8 833.2,702.4 837.8,703.0 842.5,702.5 847.1,702.4 851.7,702.6 856.4,702.5 861.0,703.0 865.6,702.4 870.2,702.8 874.9,702.4 879.5,702.4 884.1,703.0 888.8,702.5 896.0,701.8 901.0,697.8 906.0,696.2 913.2,696.2" fill="none" stroke="#3a9bcb" stroke-width="3.0" stroke-linejoin="round" stroke-linecap="butt" opacity="1" /><polyline points="83.3,716.1 87.9,716.1 92.6,715.8 97.2,716.2 101.8,716.2 106.4,716.2 111.1,716.1 115.7,715.8 120.3,715.8 125.0,715.9 129.6,715.8 134.2,715.8 138.9,716.1 143.5,716.2 148.1,715.8 152.7,715.9 157.4,716.2 162.0,715.9 166.6,716.1 171.3,716.1 175.9,716.1 180.5,716.2 185.1,716.2 189.8,716.1 194.4,716.1 199.0,715.8 203.7,716.2 208.3,715.8 212.9,716.1 217.6,716.1 222.2,715.8 226.8,715.8 231.4,716.0 236.1,716.2 240.7,716.0 245.3,716.1 250.0,715.8 254.6,716.2 259.2,716.1 263.8,715.8 268.5,716.2 273.1,716.0 277.7,715.8 282.4,715.9 287.0,716.2 291.6,716.2 296.2,716.2 300.9,715.8 305.5,716.1 310.1,715.9 314.8,715.8 319.4,716.1 324.0,716.1 328.7,715.8 333.3,715.9 337.9,716.1 342.5,715.9 347.2,716.1 351.8,716.1 356.4,716.2 361.1,715.9 365.7,715.8 370.3,715.9 374.9,715.8 379.6,716.2 384.2,716.1 388.8,716.0 393.5,715.8 398.1,715.8 402.7,716.1 407.4,716.1 412.0,716.0 416.6,716.0 421.2,715.8 425.9,716.2 430.5,715.8 435.1,715.9 439.8,715.8 444.4,715.9 449.0,715.9 453.6,716.1 458.3,716.1 462.9,716.1 467.5,715.9 472.2,710.5 476.8,716.2 481.4,715.9 486.1,716.1 490.7,716.2 495.3,716.2 499.9,716.0 504.6,716.1 509.2,715.8 513.8,715.8 518.5,715.8 523.1,716.1 527.7,716.2 532.3,716.2 537.0,716.0 541.6,715.9 546.2,716.0 550.9,716.1 555.5,716.0 560.1,715.9 564.8,715.9 569.4,715.9 574.0,715.8 578.6,715.9 583.3,716.2 588.9,715.5 591.0,672.5 592.8,631.5 595.0,635.5 598.3,642.5 601.0,667.5 604.0,692.5 606.5,707.5 608.0,710.5 610.0,710.2 614.6,710.4 619.3,710.3 623.9,710.4 628.5,710.3 633.1,710.5 637.8,710.5 642.4,710.5 647.0,710.5 651.7,710.2 656.3,710.3 660.9,710.4 665.6,710.4 670.2,710.2 674.8,710.3 679.4,710.5 684.1,710.2 688.7,710.3 693.3,710.2 698.0,710.5 702.6,710.4 707.2,710.2 711.8,710.2 716.5,710.2 721.1,710.5 725.7,710.4 730.4,710.5 735.0,710.5 739.6,710.2 744.3,710.3 748.9,710.2 753.5,710.4 758.1,710.2 762.8,710.4 767.4,710.4 772.0,710.2 776.7,710.2 781.3,710.5 785.9,710.3 790.5,710.3 795.2,710.5 799.8,710.4 804.4,710.5 809.1,710.5 813.7,710.4 818.3,710.3 822.9,710.3 827.6,710.5 832.2,710.5 836.8,710.4 841.5,710.3 846.1,710.5 850.7,710.4 855.4,710.5 860.0,710.2 864.6,710.3 869.2,710.5 873.9,710.5 878.5,710.4 882.0,710.0 885.5,696.5 889.0,682.5 892.0,689.5 895.0,702.5 897.5,711.5 900.0,713.0 913.2,712.5" fill="none" stroke="#3a9bcb" stroke-width="2.6" stroke-linejoin="round" stroke-linecap="butt" opacity="1" /><polyline points="83.3,711.0 87.9,712.5 92.6,712.3 97.2,712.3 101.8,711.9 106.4,711.5 111.1,711.7 115.7,712.1 120.3,712.1 125.0,712.0 129.6,712.1 134.2,712.2 138.9,712.5 143.5,712.3 148.1,711.4 152.7,712.4 157.4,712.0 162.0,711.8 166.6,711.6 171.3,712.3 175.9,712.3 180.5,712.3 185.1,712.1 189.8,712.1 194.4,711.5 199.0,711.6 203.7,711.6 208.3,712.6 212.9,712.6 217.6,711.7 222.2,711.5 226.8,712.0 231.4,711.9 236.1,712.6 240.7,712.1 245.3,711.5 250.0,711.6 254.6,711.6 259.2,711.4 263.8,712.3 268.5,712.5 273.1,712.4 277.7,712.0 282.4,711.8 287.0,711.5 291.6,711.7 296.2,711.8 300.9,711.7 305.5,712.1 310.1,711.9 314.8,712.6 319.4,711.7 324.0,712.3 328.7,711.5 333.3,711.8 337.9,712.2 342.5,712.4 347.2,712.3 351.8,711.8 356.4,711.8 361.1,712.5 365.7,712.5 370.3,712.0 374.9,711.9 379.6,712.1 384.2,712.3 388.8,711.9 393.5,712.6 398.1,712.2 402.7,712.0 407.4,711.4 412.0,711.8 416.6,711.5 421.2,712.0 425.9,712.3 430.5,712.3 435.1,711.4 439.8,711.8 444.4,712.2 449.0,712.6 453.6,712.0 458.3,711.8 462.9,712.1 467.5,712.3 472.2,711.8 476.8,711.5 481.4,712.3 486.1,712.6 490.7,712.2 495.3,712.1 499.9,711.8 504.6,712.4 509.2,711.6 513.8,711.7 518.5,712.0 523.1,712.4 527.7,711.4 532.3,712.2 537.0,711.6 541.6,712.3 546.2,712.3 550.9,711.7 555.5,712.2 560.1,711.5 564.8,712.0 569.4,712.4 574.0,712.3 578.6,712.1 583.3,711.8 587.9,711.5 592.5,712.4 598.3,712.5 602.5,665.0 606.5,612.5 609.0,609.0 614.0,608.5 617.5,609.5 621.0,616.0 626.0,612.0 631.0,611.0 635.0,608.5 640.0,614.5 644.0,617.0 648.0,614.5 653.0,609.5 657.0,611.5 662.0,612.5 667.0,612.0 672.0,611.0 677.0,612.0 682.0,611.5 686.0,609.5 690.0,612.5 694.0,611.0 699.0,610.0 703.0,609.0 707.0,612.5 710.0,610.5 714.0,607.0 718.0,613.5 722.0,611.5 727.0,604.5 732.0,616.0 736.0,607.5 741.0,611.5 745.0,610.0 750.0,605.0 754.0,608.5 758.0,607.5 762.0,614.5 766.0,608.5 770.0,610.0 774.0,613.0 779.0,615.5 783.0,616.5 787.0,619.5 791.0,615.0 796.0,614.0 801.0,613.0 806.0,614.0 810.0,613.0 815.0,611.0 820.0,611.5 826.0,610.0 831.0,609.5 836.0,610.0 839.0,614.5 842.0,620.5 847.0,619.0 852.0,618.0 857.0,612.5 861.0,618.0 866.0,617.5 871.0,616.5 876.0,614.5 881.0,613.0 886.0,611.0 890.0,609.5 893.5,608.0 895.5,585.0 897.5,562.5 901.0,559.5 905.0,564.5 909.0,565.0 913.0,562.5" fill="none" stroke="#e6b91e" stroke-width="3.0" stroke-linejoin="round" stroke-linecap="butt" opacity="1" /></svg>
<svg width="1920" height="1080"><rect x="83.3" y="979.90" width="832.5" height="1.6" fill="#f0f0f0"/><rect x="83.3" y="937.90" width="832.5" height="1.6" fill="#f0f0f0"/><rect x="83.3" y="895.90" width="832.5" height="1.6" fill="#f0f0f0"/><rect x="83.3" y="853.90" width="832.5" height="1.6" fill="#f0f0f0"/><rect x="83.3" y="1021.95" width="830.5" height="1.5" fill="#cdcdcd"/><rect x="111.35" y="1023.20" width="1.3" height="7.2" fill="#9d9d9d"/><rect x="319.40" y="1023.20" width="1.3" height="7.2" fill="#9d9d9d"/><rect x="527.35" y="1023.20" width="1.3" height="7.2" fill="#9d9d9d"/><rect x="735.45" y="1023.20" width="1.3" height="7.2" fill="#9d9d9d"/></svg>
<span class="t" style="left:68.79px;top:1015.00px;font-size:15.2px;color:#444a50;transform:scaleX(1.0267);">0</span>
<span class="t" style="left:60.49px;top:973.00px;font-size:15.2px;color:#444a50;transform:scaleX(1.0159);">32</span>
<span class="t" style="left:60.24px;top:931.00px;font-size:15.2px;color:#444a50;transform:scaleX(1.0159);">64</span>
<span class="t" style="left:60.23px;top:889.00px;font-size:15.2px;color:#444a50;transform:scaleX(1.0323);">96</span>
<span class="t" style="left:50.67px;top:847.00px;font-size:15.2px;color:#444a50;transform:scaleX(1.0638);">128</span>
<span class="t" style="left:91.30px;top:1033.00px;font-size:15.6px;color:#444a50;transform:scaleX(1.0416);">14:15</span>
<span class="t" style="left:299.35px;top:1033.00px;font-size:15.6px;color:#444a50;transform:scaleX(1.0416);">14:30</span>
<span class="t" style="left:507.30px;top:1033.00px;font-size:15.6px;color:#444a50;transform:scaleX(1.0416);">14:45</span>
<span class="t" style="left:715.40px;top:1033.00px;font-size:15.6px;color:#444a50;transform:scaleX(1.0416);">15:00</span>
<svg width="1920" height="1080"><polyline points="83.3,887.2 87.9,887.2 92.6,887.2 97.2,887.1 101.8,887.1 106.4,887.1 111.1,887.1 115.7,887.1 120.3,887.1 125.0,887.1 129.6,887.1 134.2,887.1 138.9,887.1 143.5,887.1 148.1,887.1 152.7,887.1 157.4,887.0 162.0,887.0 166.6,887.0 171.3,887.0 175.9,887.0 180.5,887.0 185.1,887.0 189.8,887.0 194.4,887.0 199.0,887.0 203.7,887.0 208.3,887.0 212.9,887.0 217.6,886.9 222.2,886.9 226.8,886.9 231.4,886.9 236.1,886.9 240.7,886.9 245.3,886.9 250.0,886.9 254.6,886.9 259.2,886.9 263.8,886.9 268.5,886.9 273.1,886.8 277.7,886.8 282.4,886.8 287.0,886.8 291.6,886.8 296.2,886.8 300.9,886.8 305.5,886.8 310.1,886.8 314.8,886.8 319.4,886.8 324.0,886.8 328.7,886.8 333.3,886.7 337.9,886.7 342.5,886.7 347.2,886.7 351.8,886.7 356.4,886.7 361.1,886.7 365.7,886.7 370.3,886.7 374.9,886.7 379.6,886.7 384.2,886.7 388.8,886.6 393.5,886.6 398.1,886.6 402.7,886.6 407.4,886.6 412.0,886.6 416.6,886.6 421.2,886.6 425.9,886.6 430.5,886.6 435.1,886.6 439.8,886.6 444.4,886.6 449.0,886.5 453.6,886.5 458.3,886.5 462.9,886.5 467.5,886.5 472.2,887.5 476.8,887.5 481.4,887.5 486.1,887.5 490.7,887.5 495.3,887.5 499.9,887.5 504.6,887.5 509.2,887.5 513.8,887.5 518.5,887.5 523.1,887.5 527.7,887.5 532.3,887.5 537.0,887.5 541.6,887.5 546.2,887.5 550.9,887.5 555.5,887.5 560.1,887.5 564.8,887.5 569.4,887.5 574.0,887.5 578.6,887.5 583.3,887.5 587.9,887.5 592.5,887.5 597.2,887.5 601.8,886.9 606.4,886.8 611.0,886.8 615.7,886.7 620.3,885.7 624.9,885.5 629.6,885.3 634.2,885.1 638.8,884.9 643.4,884.6 648.1,884.3 652.7,884.0 657.3,883.7 662.0,883.3 666.6,883.0 671.2,882.7 675.9,882.4 680.5,882.1 685.1,881.7 689.7,881.4 694.4,881.1 699.0,880.8 703.6,880.5 708.3,880.2 712.9,879.8 717.5,879.5 722.1,879.2 726.8,878.9 731.4,878.6 736.0,878.2 740.7,877.9 745.3,877.6 749.9,877.3 754.6,877.0 759.2,876.7 763.8,876.3 768.4,876.0 773.1,875.7 777.7,875.4 782.3,875.1 787.0,874.7 791.6,874.4 796.2,874.1 800.8,873.8 805.5,873.5 810.1,873.2 814.7,872.8 819.4,872.5 824.0,872.2 828.6,871.9 833.3,871.6 837.9,871.3 842.5,870.9 847.1,870.6 851.8,870.3 856.4,870.0 861.0,869.7 865.7,869.3 870.3,869.0 874.9,868.7 879.5,868.4 884.2,869.0 888.8,868.7 893.4,868.4 898.1,868.2 902.7,868.2 907.3,868.2 912.0,868.2 913.4,868.2" fill="none" stroke="#e6b91e" stroke-width="2.4" stroke-linejoin="round" stroke-linecap="butt" opacity="1" /><polyline points="83.3,887.4 87.9,887.4 92.6,887.4 97.2,887.4 101.8,887.4 106.4,887.4 111.1,887.4 115.7,887.4 120.3,887.4 125.0,887.4 129.6,887.4 134.2,887.3 138.9,887.3 143.5,887.3 148.1,887.3 152.7,887.3 157.4,887.3 162.0,887.3 166.6,887.3 171.3,887.3 175.9,887.3 180.5,887.3 185.1,887.3 189.8,887.3 194.4,887.2 199.0,887.2 203.7,887.2 208.3,887.2 212.9,887.2 217.6,887.2 222.2,887.2 226.8,887.2 231.4,887.2 236.1,887.2 240.7,887.2 245.3,887.2 250.0,887.2 254.6,887.1 259.2,887.1 263.8,887.1 268.5,887.1 273.1,887.1 277.7,887.1 282.4,887.1 287.0,887.1 291.6,887.1 296.2,887.1 300.9,887.1 305.5,887.1 310.1,887.0 314.8,887.0 319.4,887.0 324.0,887.0 328.7,887.0 333.3,887.0 337.9,887.0 342.5,887.0 347.2,887.0 351.8,887.0 356.4,887.0 361.1,887.0 365.7,887.0 370.3,886.9 374.9,886.9 379.6,886.9 384.2,886.9 388.8,886.9 393.5,886.9 398.1,886.9 402.7,886.9 407.4,886.9 412.0,886.9 416.6,886.9 421.2,886.9 425.9,886.8 430.5,886.8 435.1,886.8 439.8,886.8 444.4,886.8 449.0,886.8 453.6,886.8 458.3,886.8 462.9,886.8 467.5,886.8 472.2,887.8 476.8,887.8 481.4,887.8 486.1,887.8 490.7,887.8 495.3,887.8 499.9,887.8 504.6,887.8 509.2,887.8 513.8,887.8 518.5,887.8 523.1,887.8 527.7,887.8 532.3,887.8 537.0,887.8 541.6,887.8 546.2,887.8 550.9,887.8 555.5,887.8 560.1,887.8 564.8,887.8 569.4,887.8 574.0,887.8 578.6,887.8 583.3,887.8 587.9,887.8 592.5,887.8 597.2,887.8 601.8,887.1 606.4,887.1 611.0,887.1 615.7,887.0 620.3,886.9 624.9,886.7 629.6,886.5 634.2,886.3 638.8,886.1 643.4,885.8 648.1,885.5 652.7,885.2 657.3,884.8 662.0,884.5 666.6,884.2 671.2,883.9 675.9,883.6 680.5,883.2 685.1,882.9 689.7,882.6 694.4,882.3 699.0,882.0 703.6,881.7 708.3,881.3 712.9,881.0 717.5,880.7 722.1,880.4 726.8,880.1 731.4,879.7 736.0,879.4 740.7,879.1 745.3,878.8 749.9,878.5 754.6,878.2 759.2,877.8 763.8,877.5 768.4,877.2 773.1,876.9 777.7,876.6 782.3,876.2 787.0,875.9 791.6,875.6 796.2,875.3 800.8,875.0 805.5,874.7 810.1,874.3 814.7,874.0 819.4,873.7 824.0,873.4 828.6,873.1 833.3,872.7 837.9,872.4 842.5,872.1 847.1,871.8 851.8,871.5 856.4,871.2 861.0,870.8 865.7,870.5 870.3,870.2 874.9,869.9 879.5,869.6 884.2,869.3 888.8,868.9 893.4,868.6 898.1,868.5 902.7,868.5 907.3,868.5 912.0,868.5 913.4,868.5" fill="none" stroke="#3a9bcb" stroke-width="3.2" stroke-linejoin="round" stroke-linecap="butt" opacity="1" /><polyline points="83.3,951.7 87.9,951.7 92.6,951.7 97.2,951.7 101.8,951.7 106.4,951.7 111.1,951.7 115.7,951.7 120.3,951.7 125.0,951.7 129.6,951.7 134.2,951.7 138.9,951.7 143.5,951.7 148.1,951.7 152.7,951.7 157.4,951.7 162.0,951.7 166.6,951.7 171.3,951.7 175.9,951.7 180.5,951.7 185.1,951.7 189.8,951.7 194.4,951.7 199.0,951.7 203.7,951.7 208.3,951.7 212.9,951.7 217.6,951.7 222.2,951.7 226.8,951.7 231.4,951.7 236.1,951.7 240.7,951.7 245.3,951.7 250.0,951.7 254.6,951.7 259.2,951.7 263.8,951.7 268.5,951.7 273.1,951.7 277.7,951.7 282.4,951.7 287.0,951.7 291.6,951.7 296.2,951.7 300.9,951.7 305.5,951.7 310.1,951.7 314.8,951.7 319.4,951.7 324.0,951.7 328.7,951.7 333.3,951.7 337.9,951.7 342.5,951.7 347.2,951.7 351.8,951.7 356.4,951.7 361.1,951.7 365.7,951.7 370.3,951.7 374.9,951.7 379.6,951.7 384.2,951.7 388.8,951.7 393.5,951.7 398.1,951.7 402.7,951.7 407.4,951.7 412.0,951.7 416.6,951.7 421.2,951.7 425.9,951.7 430.5,951.7 435.1,951.7 439.8,951.7 444.4,951.7 449.0,951.7 453.6,951.7 458.3,951.7 462.9,951.7 467.5,951.7 472.2,951.7 476.8,951.7 481.4,951.7 486.1,951.7 490.7,951.7 495.3,951.7 499.9,951.7 504.6,951.7 509.2,951.7 513.8,951.7 518.5,951.7 523.1,951.7 527.7,951.7 532.3,951.7 537.0,951.7 541.6,951.7 546.2,951.7 550.9,951.7 555.5,951.7 560.1,951.7 564.8,951.7 569.4,951.7 574.0,951.7 578.6,951.7 583.3,951.7 587.9,951.7 592.5,951.7 597.2,951.7 601.8,951.7 606.4,951.7 611.0,951.7 615.7,951.7 620.3,951.7 624.9,951.7 629.6,951.7 634.2,951.7 638.8,951.7 643.4,951.7 648.1,951.7 652.7,951.7 657.3,951.7 662.0,951.7 666.6,951.7 671.2,951.7 675.9,951.7 680.5,951.7 685.1,951.7 689.7,951.7 694.4,951.7 699.0,951.7 703.6,951.7 708.3,951.7 712.9,951.7 717.5,951.7 722.1,951.7 726.8,951.7 731.4,951.7 736.0,951.7 740.7,951.7 745.3,951.7 749.9,951.7 754.6,951.7 759.2,951.7 763.8,951.7 768.4,951.7 773.1,951.7 777.7,951.7 782.3,951.7 787.0,951.7 791.6,951.7 796.2,951.7 800.8,951.7 805.5,951.7 810.1,951.7 814.7,951.7 819.4,951.7 824.0,951.7 828.6,951.7 833.3,951.7 837.9,951.7 842.5,951.7 847.1,951.7 851.8,951.7 856.4,951.7 861.0,951.7 865.7,951.7 870.3,951.7 874.9,951.7 879.5,951.7 884.2,951.7 888.8,951.7 893.4,951.7 898.1,951.7 902.7,951.7 907.3,951.7 912.0,951.7 913.4,951.7" fill="none" stroke="#a58dcf" stroke-width="3.0" stroke-linejoin="round" stroke-linecap="butt" opacity="1" /><polyline points="83.3,1021.8 87.9,1021.8 92.6,1021.8 97.2,1021.8 101.8,1020.6 106.4,1021.8 111.1,1021.0 115.7,1021.8 120.3,1021.8 125.0,1021.3 129.6,1021.8 134.2,1021.2 138.9,1020.7 143.5,1021.8 148.1,1021.8 152.7,1021.8 157.4,1021.8 162.0,1021.8 166.6,1021.7 171.3,1020.9 175.9,1021.8 180.5,1021.8 185.1,1021.1 189.8,1021.8 194.4,1021.8 199.0,1020.9 203.7,1021.8 208.3,1021.8 212.9,1021.8 217.6,1020.8 222.2,1021.8 226.8,1021.8 231.4,1021.8 236.1,1021.8 240.7,1021.8 245.3,1021.9 250.0,1021.8 254.6,1021.8 259.2,1021.8 263.8,1021.8 268.5,1021.8 273.1,1021.8 277.7,1021.8 282.4,1021.8 287.0,1021.5 291.6,1021.8 296.2,1021.0 300.9,1021.3 305.5,1021.8 310.1,1021.9 314.8,1021.8 319.4,1021.0 324.0,1020.8 328.7,1021.8 333.3,1021.8 337.9,1021.8 342.5,1021.8 347.2,1021.8 351.8,1021.8 356.4,1021.8 361.1,1021.8 365.7,1021.8 370.3,1021.8 374.9,1021.8 379.6,1021.8 384.2,1021.5 388.8,1021.8 393.5,1021.8 398.1,1021.8 402.7,1021.8 407.4,1021.8 412.0,1021.8 416.6,1021.8 421.2,1021.8 425.9,1021.8 430.5,1021.8 435.1,1021.8 439.8,1021.8 444.4,1021.8 449.0,1021.0 453.6,1021.8 458.3,1021.8 462.9,1021.8 467.5,1021.8 472.2,1021.8 476.8,1021.8 481.4,1021.8 486.1,1021.8 490.7,1021.8 495.3,1021.7 499.9,1021.8 504.6,1021.8 509.2,1021.0 513.8,1021.8 518.5,1021.8 523.1,1021.8 527.7,1021.8 532.3,1021.8 537.0,1021.8 541.6,1021.7 546.2,1021.8 550.9,1021.8 555.5,1020.8 560.1,1021.8 564.8,1021.2 569.4,1021.8 574.0,1021.8 578.6,1021.8 583.3,1021.2 584.9,1021.5 588.0,1017.5 591.0,1010.9 593.5,1000.4 595.5,983.3 597.7,952.6 600.0,975.5 602.5,999.1 604.5,1012.2 606.5,1021.5 611.0,1021.8 615.7,1021.8 620.3,1021.8 624.9,1021.8 629.6,1021.8 634.2,1021.8 638.8,1021.8 643.4,1021.8 648.1,1021.8 652.7,1021.8 657.3,1021.8 662.0,1021.8 666.6,1021.8 671.2,1021.8 675.9,1021.8 680.5,1021.8 685.1,1021.8 689.7,1021.8 694.4,1021.8 699.0,1021.8 703.6,1021.8 708.3,1021.8 712.9,1021.8 717.5,1021.8 722.1,1021.8 726.8,1021.8 731.4,1021.8 736.0,1021.8 740.7,1021.8 745.3,1021.8 749.9,1021.8 754.6,1021.8 759.2,1021.8 763.8,1021.8 768.4,1021.8 773.1,1021.8 777.7,1021.8 782.3,1021.8 787.0,1021.8 791.6,1021.8 796.2,1021.8 800.8,1021.8 805.5,1021.8 810.1,1021.8 814.7,1021.8 819.4,1021.8 824.0,1021.8 828.6,1021.8 833.3,1021.8 837.9,1021.8 842.5,1021.8 847.1,1021.8 851.8,1021.8 856.4,1021.8 861.0,1021.8 865.7,1021.8 870.3,1021.8 874.9,1021.8 879.5,1021.8 882.0,1021.5 885.0,1018.8 889.0,1009.6 893.4,995.4 896.0,1009.6 898.6,1021.5 902.7,1021.8 907.3,1021.8 912.0,1021.8 913.4,1021.8" fill="none" stroke="#3a9bcb" stroke-width="1.3" stroke-linejoin="round" stroke-linecap="butt" opacity="1" /><polyline points="583.3,1021.2 584.9,1021.5 588.0,1017.5 591.0,1010.9 593.5,1000.4 595.5,983.3 597.7,952.6 600.0,975.5 602.5,999.1 604.5,1012.2 606.5,1021.5" fill="none" stroke="#3a9bcb" stroke-width="2.6" stroke-linejoin="round" stroke-linecap="butt" opacity="1" /><polyline points="882.0,1021.5 885.0,1018.8 889.0,1009.6 893.4,995.4 896.0,1009.6 898.6,1021.5" fill="none" stroke="#3a9bcb" stroke-width="2.6" stroke-linejoin="round" stroke-linecap="butt" opacity="1" /><polyline points="83.3,965.5 87.9,965.5 92.6,965.5 97.2,965.5 101.8,965.5 106.4,965.5 111.1,965.5 115.7,965.5 120.3,965.5 125.0,965.5 129.6,965.5 134.2,965.5 138.9,965.5 143.5,965.5 148.1,965.5 152.7,965.5 157.4,965.5 162.0,965.5 166.6,965.5 171.3,965.5 175.9,965.5 180.5,965.5 185.1,965.5 189.8,965.5 194.4,965.5 199.0,965.5 203.7,965.5 208.3,965.5 212.9,965.5 217.6,965.5 222.2,965.5 226.8,965.5 231.4,965.5 236.1,965.5 240.7,965.5 245.3,965.5 250.0,965.5 254.6,965.5 259.2,965.5 263.8,965.5 268.5,965.5 273.1,965.5 277.7,965.5 282.4,965.5 287.0,965.5 291.6,965.5 296.2,965.5 300.9,965.5 305.5,965.5 310.1,965.5 314.8,965.5 319.4,965.5 324.0,965.5 328.7,965.5 333.3,965.5 337.9,965.5 342.5,965.5 347.2,965.5 351.8,965.5 356.4,965.5 361.1,965.5 365.7,965.5 370.3,965.5 374.9,965.5 379.6,965.5 384.2,965.5 388.8,965.5 393.5,965.5 398.1,965.5 402.7,965.5 407.4,965.5 412.0,965.5 416.6,965.5 421.2,965.5 425.9,965.5 430.5,965.5 435.1,965.5 439.8,965.5 444.4,965.5 449.0,965.5 453.6,965.5 458.3,965.5 462.9,965.5 467.5,965.5 472.2,965.5 476.8,965.5 481.4,965.5 486.1,965.5 490.7,965.5 495.3,965.5 499.9,965.5 504.6,965.5 509.2,965.5 513.8,965.5 518.5,965.5 523.1,965.5 527.7,965.5 532.3,965.5 537.0,965.5 541.6,965.5 546.2,965.5 550.9,965.5 555.5,965.5 560.1,965.5 564.8,965.5 569.4,965.5 574.0,965.5 578.6,965.5 583.3,965.5 587.9,965.5 592.5,965.5 597.2,965.5 601.8,963.4 606.4,963.4 611.0,963.3 615.7,963.3 620.3,963.3 624.9,963.3 629.6,963.3 634.2,963.3 638.8,963.2 643.4,963.2 648.1,963.2 652.7,963.2 657.3,963.2 662.0,963.2 666.6,963.2 671.2,963.1 675.9,963.1 680.5,963.1 685.1,963.1 689.7,963.1 694.4,963.1 699.0,963.0 703.6,963.0 708.3,963.0 712.9,963.0 717.5,963.0 722.1,963.0 726.8,963.0 731.4,962.9 736.0,962.9 740.7,962.9 745.3,962.9 749.9,962.9 754.6,962.9 759.2,962.8 763.8,962.8 768.4,962.8 773.1,962.8 777.7,962.8 782.3,962.8 787.0,962.8 791.6,962.7 796.2,962.7 800.8,962.7 805.5,962.7 810.1,962.7 814.7,962.7 819.4,962.6 824.0,962.6 828.6,962.6 833.3,962.6 837.9,962.6 842.5,962.6 847.1,962.5 851.8,962.5 856.4,962.5 861.0,962.5 865.7,962.5 870.3,962.5 874.9,962.5 879.5,962.4 884.2,962.4 888.8,962.4 893.4,962.4 898.1,962.4 902.7,962.4 907.3,962.3 912.0,962.3 913.4,962.3" fill="none" stroke="#e6b91e" stroke-width="3.0" stroke-linejoin="round" stroke-linecap="butt" opacity="1" /><polyline points="601.6,990.8 700.0,990.2 865.0,989.5 913.3,989.2" fill="none" stroke="#c9bce4" stroke-width="1.8" stroke-linejoin="round" stroke-linecap="butt" opacity="1" /><polyline points="83.3,993.6 87.9,993.2 92.6,993.4 97.2,993.5 101.8,993.2 106.4,993.6 111.1,993.5 115.7,993.1 120.3,993.5 125.0,993.3 129.6,993.1 134.2,993.1 138.9,993.5 143.5,993.4 148.1,993.2 152.7,993.4 157.4,993.0 162.0,993.5 166.6,993.0 171.3,993.3 175.9,993.5 180.5,993.3 185.1,993.5 189.8,993.2 194.4,993.5 199.0,993.0 203.7,993.2 208.3,993.4 212.9,993.5 217.6,993.2 222.2,993.5 226.8,993.1 231.4,993.5 236.1,993.3 240.7,993.3 245.3,993.5 250.0,993.1 254.6,993.4 259.2,993.2 263.8,993.3 268.5,993.4 273.1,993.4 277.7,993.6 282.4,993.5 287.0,993.1 291.6,993.4 296.2,993.2 300.9,993.6 305.5,993.3 310.1,993.4 314.8,993.3 319.4,993.4 324.0,993.6 328.7,993.4 333.3,993.5 337.9,993.5 342.5,993.2 347.2,993.4 351.8,993.4 356.4,993.0 361.1,993.1 365.7,993.0 370.3,993.1 374.9,993.5 379.6,993.4 384.2,993.6 388.8,993.2 393.5,993.2 398.1,993.4 402.7,993.4 407.4,993.2 412.0,993.2 416.6,993.5 421.2,993.1 425.9,993.4 430.5,993.2 435.1,993.5 439.8,993.6 444.4,993.0 449.0,993.1 453.6,993.2 458.3,993.6 462.9,993.6 467.5,993.5 472.2,993.5 476.8,993.4 481.4,993.4 486.1,993.6 490.7,993.4 495.3,993.2 499.9,993.5 504.6,993.1 509.2,993.3 513.8,993.2 518.5,993.5 523.1,993.3 527.7,993.2 532.3,993.4 537.0,993.6 541.6,993.1 546.2,993.1 550.9,993.4 555.5,993.6 560.1,993.1 564.8,993.2 569.4,993.6 574.0,993.5 578.6,993.6 583.3,993.1 587.9,993.5 592.5,993.0 597.2,993.1 601.8,993.6 606.4,993.2 611.0,993.3 615.7,993.1 620.3,993.0 624.9,993.4 629.6,993.5 634.2,992.9 638.8,993.2 643.4,992.9 648.1,993.0 652.7,993.0 657.3,992.9 662.0,993.0 666.6,993.1 671.2,993.4 675.9,992.9 680.5,993.1 685.1,993.0 689.7,992.7 694.4,993.2 699.0,992.8 703.6,993.3 708.3,992.8 712.9,992.7 717.5,993.1 722.1,992.9 726.8,992.6 731.4,992.8 736.0,992.8 740.7,993.0 745.3,993.1 749.9,992.9 754.6,992.8 759.2,993.0 763.8,992.9 768.4,993.0 773.1,992.6 777.7,992.6 782.3,992.9 787.0,992.8 791.6,992.7 796.2,992.7 800.8,992.3 805.5,992.7 810.1,992.7 814.7,992.3 819.4,992.8 824.0,992.5 828.6,992.6 833.3,992.3 837.9,992.5 842.5,992.3 847.1,992.7 851.8,992.3 856.4,992.4 861.0,992.5 865.7,992.2 870.3,992.2 874.9,992.6 879.5,992.5 884.2,992.4 888.8,992.5 893.4,992.6 898.1,992.4 902.7,992.5 907.3,992.1 912.0,992.3 913.4,992.5" fill="none" stroke="#74b9dd" stroke-width="3.2" stroke-linejoin="round" stroke-linecap="butt" opacity="1" /><polyline points="83.3,991.3 87.9,991.3 92.6,991.3 97.2,991.3 101.8,991.3 106.4,991.3 111.1,991.3 115.7,991.3 120.3,991.3 125.0,991.3 129.6,991.3 134.2,991.3 138.9,991.3 143.5,991.3 148.1,991.3 152.7,991.3 157.4,991.3 162.0,991.3 166.6,991.3 171.3,991.3 175.9,991.3 180.5,991.3 185.1,991.3 189.8,991.3 194.4,991.3 199.0,991.3 203.7,991.3 208.3,991.3 212.9,991.3 217.6,991.3 222.2,991.3 226.8,991.3 231.4,991.3 236.1,991.3 240.7,991.3 245.3,991.3 250.0,991.3 254.6,991.3 259.2,991.3 263.8,991.3 268.5,991.3 273.1,991.3 277.7,991.3 282.4,991.3 287.0,991.3 291.6,991.3 296.2,991.3 300.9,991.3 305.5,991.3 310.1,991.3 314.8,991.3 319.4,991.3 324.0,991.3 328.7,991.3 333.3,991.3 337.9,991.3 342.5,991.3 347.2,991.3 351.8,991.3 356.4,991.3 361.1,991.3 365.7,991.3 370.3,991.3 374.9,991.3 379.6,991.3 384.2,991.3 388.8,991.3 393.5,991.3 398.1,991.3 402.7,991.3 407.4,991.3 412.0,991.3 416.6,991.3 421.2,991.3 425.9,991.3 430.5,991.3 435.1,991.3 439.8,991.3 444.4,991.3 449.0,991.3 453.6,991.3 458.3,991.3 462.9,991.3 467.5,991.3 472.2,991.3 476.8,991.3 481.4,991.3 486.1,991.3 490.7,991.3 495.3,991.3 499.9,991.3 504.6,991.3 509.2,991.3 513.8,991.3 518.5,991.3 523.1,991.3 527.7,991.3 532.3,991.3 537.0,991.3 541.6,991.3 546.2,991.3 550.9,991.3 555.5,991.3 560.1,991.3 564.8,991.3 569.4,991.3 574.0,991.3 578.6,991.3 583.3,991.3 587.9,991.3 592.5,991.3 597.2,991.3 601.8,991.3 606.4,991.3 611.0,991.3 615.7,991.3 620.3,991.3 624.9,991.4 629.6,991.4 634.2,991.4 638.8,991.4 643.4,991.4 648.1,991.4 652.7,991.4 657.3,991.4 662.0,991.4 666.6,991.4 671.2,991.4 675.9,991.4 680.5,991.4 685.1,991.4 689.7,991.4 694.4,991.4 699.0,991.4 703.6,991.4 708.3,991.4 712.9,991.4 717.5,991.4 722.1,991.4 726.8,991.4 731.4,991.4 736.0,991.4 740.7,991.4 745.3,991.5 749.9,991.5 754.6,991.5 759.2,991.5 763.8,991.5 768.4,991.5 773.1,991.5 777.7,991.5 782.3,991.5 787.0,991.5 791.6,991.5 796.2,991.5 800.8,991.5 805.5,991.5 810.1,991.5 814.7,991.5 819.4,991.5 824.0,991.5 828.6,991.5 833.3,991.5 837.9,991.5 842.5,991.5 847.1,991.5 851.8,991.5 856.4,991.5 861.0,991.5 865.7,991.6 870.3,991.6 874.9,991.6 879.5,991.6 884.2,991.6 888.8,991.6 893.4,991.6 898.1,991.6 902.7,991.6 907.3,991.6 912.0,991.6 913.4,991.6" fill="none" stroke="#a58dcf" stroke-width="2.4" stroke-linejoin="round" stroke-linecap="butt" opacity="1" /></svg>
</div></body></html>
